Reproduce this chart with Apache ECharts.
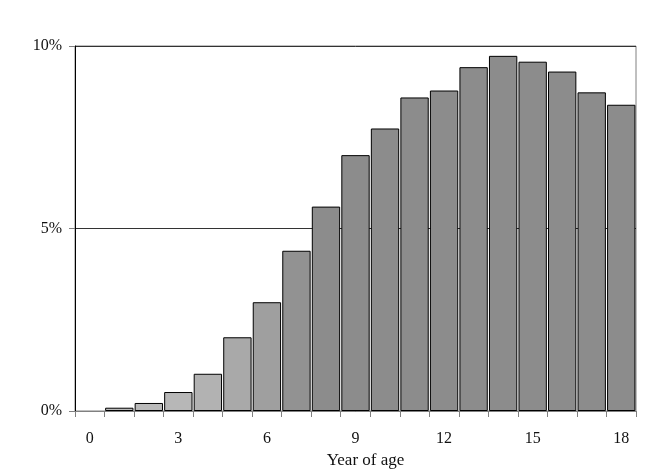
<!DOCTYPE html>
<html>
<head>
<meta charset="utf-8">
<script src="https://cdn.jsdelivr.net/npm/echarts@6/dist/echarts.min.js"></script>
<style>html,body{margin:0;padding:0;background:#fff}#c{width:657px;height:476px}</style>
</head>
<body>
<div id="c"></div>
<script>
var ages = ['0','1','2','3','4','5','6','7','8','9','10','11','12','13','14','15','16','17','18'];
var shares = [0, 0.09, 0.22, 0.52, 1.02, 2.02, 2.98, 4.39, 5.60, 7.01, 7.74, 8.59, 8.78, 9.42, 9.73, 9.57, 9.30, 8.73, 8.39];
var yTicks = [0, 5, 10];
var axisName = 'Year of age';

var FONT = '"Liberation Serif", "Times New Roman", serif';
var chart = echarts.init(document.getElementById('c'), null, {renderer: 'canvas'});
function barColor(p) {
  var v = p.value;
  var t = Math.min(1, v / 5);
  var g = Math.round(188 - t * 48);
  return 'rgb(' + g + ',' + g + ',' + g + ')';
}
chart.setOption({
  animation: false,
  backgroundColor: '#fff',
  grid: {left: 75, right: 21, top: 46, bottom: 65, show: true, borderColor: '#808080', borderWidth: 1, backgroundColor: 'transparent'},
  xAxis: {
    type: 'category',
    data: ages,
    boundaryGap: true,
    name: axisName,
    nameLocation: 'middle',
    nameGap: 37,
    nameTextStyle: {fontFamily: FONT, fontSize: 17, color: '#111', padding: [0, 0, 0, 20]},
    axisLine: {show: true, lineStyle: {color: '#808080', width: 1}},
    axisTick: {show: true, interval: 0, length: 6, lineStyle: {color: '#808080'}},
    axisLabel: {interval: 2, margin: 20, fontFamily: FONT, fontSize: 16, color: '#111'},
    splitLine: {show: false}
  },
  yAxis: {
    type: 'value',
    min: yTicks[0],
    max: yTicks[yTicks.length - 1],
    interval: 5,
    axisLine: {show: true, lineStyle: {color: '#000', width: 1}},
    axisTick: {show: true, length: 6, lineStyle: {color: '#808080'}},
    axisLabel: {margin: 13, fontFamily: FONT, fontSize: 16, color: '#111', formatter: '{value}%'},
    splitLine: {show: true, lineStyle: {color: '#333', width: 1}}
  },
  series: [{
    type: 'bar',
    data: shares.map(function (v) { return v === 0 ? '-' : v; }),
    barCategoryGap: '4%',
    itemStyle: {color: barColor, borderColor: '#000', borderWidth: 1}
  }]
});
</script>
</body>
</html>
